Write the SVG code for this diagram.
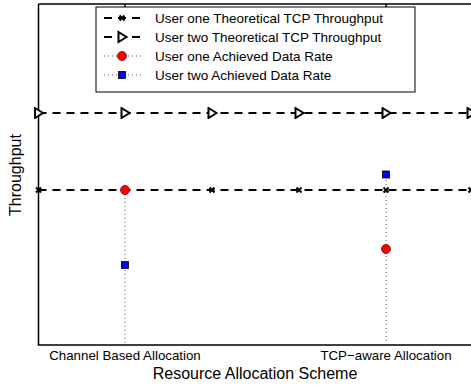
<svg xmlns="http://www.w3.org/2000/svg" width="471" height="388" viewBox="0 0 471 388">
<defs>
<style>
text{font-family:"Liberation Sans",Arial,sans-serif;fill:#000}
.ax{stroke:#000;stroke-width:1.5;fill:none}
.th{stroke:#000;stroke-width:2.2;stroke-dasharray:8,6;fill:none}
.dot{stroke:#555;stroke-width:1;stroke-dasharray:1,3;fill:none}
.tri{fill:#fff;stroke:#000;stroke-width:2}
.x{stroke:#000;stroke-width:2;fill:none}
.c{fill:#f00;stroke:#800;stroke-width:0.8}
.s{fill:#00f;stroke:#000;stroke-width:0.8}
</style>
<marker id="tm" viewBox="-6 -6 12 12" markerWidth="12" markerHeight="12" markerUnits="userSpaceOnUse" refX="0" refY="0"><path d="M-3.5,-5 L4.5,0 L-3.5,5 Z" class="tri"/></marker>
<marker id="xm" viewBox="-5 -5 10 10" markerWidth="10" markerHeight="10" markerUnits="userSpaceOnUse" refX="0" refY="0"><path d="M-2.5,-2.5 L2.5,2.5 M-2.5,2.5 L2.5,-2.5" class="x"/></marker>
</defs>
<g id="axes">
<path class="ax" d="M38.5,4 H471 M38.5,4 V345 H471"/>
<path class="ax" stroke-width="1" d="M125,4 v4 M386,4 v4"/>
</g>
<g id="connectors">
<path class="th" d="M38.5,113 H471"/>
<path d="M38.5,113 H125 H212 H299 H386 H471" fill="none" stroke="none" marker-start="url(#tm)" marker-mid="url(#tm)" marker-end="url(#tm)"/>
<path class="th" d="M38.5,190 H471"/>
<path d="M38.5,190 H125 H212 H299 H386 H471" fill="none" stroke="none" marker-start="url(#xm)" marker-mid="url(#xm)" marker-end="url(#xm)"/>
<path class="dot" d="M125,190 V345 M386,176 V345"/>
</g>
<g id="user-one-channel"><circle class="c" cx="125" cy="190" r="4.5"/></g>
<g id="user-two-channel"><rect class="s" x="121.5" y="261.5" width="7" height="7"/></g>
<g id="user-one-tcp"><circle class="c" cx="386" cy="249" r="4.5"/></g>
<g id="user-two-tcp"><rect class="s" x="382.5" y="171" width="7" height="7"/></g>
<g id="legend">
<rect x="96" y="7" width="319" height="85" fill="#fff" stroke="#000" stroke-width="1"/>
<path class="th" d="M104,18 H142" stroke-dasharray="7,5"/>
<path class="x" d="M119.5,15.5 l5,5 M119.5,20.5 l5,-5"/>
<path class="th" d="M104,37 H142" stroke-dasharray="7,5"/>
<path class="tri" d="M118.5,32 L126.5,37 L118.5,42 Z"/>
<path class="dot" d="M104,56 H142"/>
<circle class="c" cx="122" cy="56" r="4.5"/>
<path class="dot" d="M104,75 H142"/>
<rect class="s" x="118.5" y="71.5" width="7" height="7"/>
<text x="155" y="23" font-size="13.5">User one Theoretical TCP Throughput</text>
<text x="155" y="42" font-size="13.5">User two Theoretical TCP Throughput</text>
<text x="155" y="61" font-size="13.5">User one Achieved Data Rate</text>
<text x="155" y="80" font-size="13.5">User two Achieved Data Rate</text>
</g>
<g id="labels">
<text x="125" y="360" font-size="13.3" text-anchor="middle">Channel Based Allocation</text>
<text x="386" y="360" font-size="13.3" text-anchor="middle">TCP−aware Allocation</text>
<text x="255" y="379" font-size="16" text-anchor="middle">Resource Allocation Scheme</text>
<text transform="translate(21,175) rotate(-90)" font-size="16" text-anchor="middle">Throughput</text>
</g>
</svg>
